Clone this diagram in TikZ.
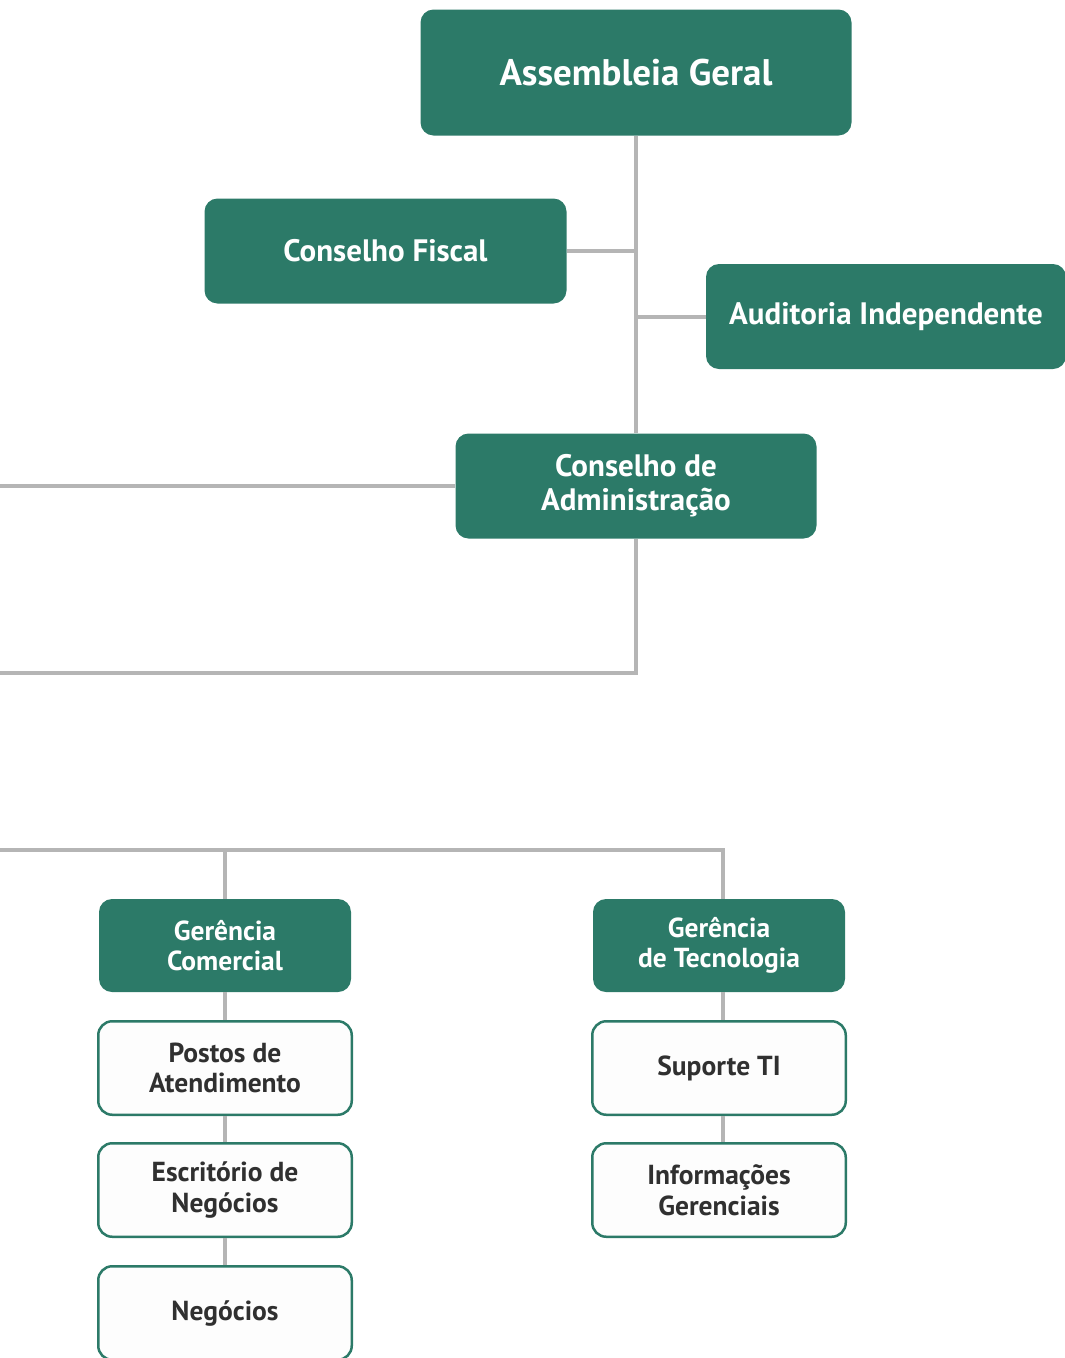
\documentclass[tikz,border=0pt]{standalone}
\usepackage{fontspec}
\setmainfont{PT Sans}
\definecolor{boxgreen}{HTML}{2C7A68}
\definecolor{linegray}{HTML}{B5B5B5}
\definecolor{txtdark}{HTML}{303030}
\definecolor{wfill}{HTML}{FDFDFD}
\begin{document}
\begin{tikzpicture}[x=1pt,y=-1pt,
  gbox/.style={fill=boxgreen, draw=none, rounded corners=13pt, text=white, align=center, inner sep=0pt},
  topfont/.style={font=\bfseries\fontsize{31}{34}\selectfont},
  subgbox/.style={gbox, minimum width=252pt, minimum height=93pt, font=\bfseries\fontsize{27.5}{30}\selectfont},
  wbox/.style={fill=wfill, draw=boxgreen, line width=2.5pt, rounded corners=14pt, text=txtdark, minimum width=253.5pt, minimum height=93.5pt, align=center, inner sep=0pt, font=\bfseries\fontsize{27.5}{30.5}\selectfont},
  conn/.style={draw=linegray, line width=4pt}]
\useasboundingbox (0,0) rectangle (1065,1358);
% top level
\node[gbox, minimum width=431pt, minimum height=126pt, font=\bfseries\fontsize{37}{42}\selectfont] (ag) at (636,72.5) {Assembleia Geral};
\node[gbox, topfont, minimum width=362pt, minimum height=105pt] (cf) at (385.5,251) {Conselho Fiscal};
\node[gbox, topfont, minimum width=360pt, minimum height=105pt] (ai) at (886,316.5) {Auditoria Independente};
\node[gbox, topfont, minimum width=361pt, minimum height=105pt] (ca) at (636,486) {Conselho de\\Administração};
% managers
\node[subgbox] (gc) at (225,945.5) {Gerência\\Comercial};
\node[subgbox] (gt) at (719,945.5) {Gerência\\de Tecnologia};
% units
\node[wbox] (pa) at (225,1068) {Postos de\\Atendimento};
\node[wbox] (en) at (225,1190) {Escritório de\\Negócios};
\node[wbox] (ng) at (225,1313) {Negócios};
\node[wbox] (st) at (719,1068) {Suporte TI};
\node[wbox] (ig) at (719,1190) {Informações\\Gerenciais};
% free ends
\coordinate (lft1) at (0,486);
\coordinate (c1) at (636,673);
\coordinate (lft2) at (0,673);
\coordinate (lft3) at (0,850);
\coordinate (bc) at (225,850);
\coordinate (bt) at (723,850);
% connectors
\draw[conn] (ag) -- (ca);
\draw[conn] (cf.east) -- (cf.east -| ag.south);
\draw[conn] (ai.west) -- (ai.west -| ag.south);
\draw[conn] (ca.west) -- (lft1);
\draw[conn] (ca.south) -- (c1) -- (lft2);
\draw[conn] (lft3) -- (bt) -- (gt.north -| bt);
\draw[conn] (bc) -- (gc.north);
\draw[conn] (gc) -- (pa);
\draw[conn] (pa) -- (en);
\draw[conn] (en) -- (ng);
\draw[conn] (gt.south -| bt) -- (st.north -| bt);
\draw[conn] (st.south -| bt) -- (ig.north -| bt);
\end{tikzpicture}
\end{document}
